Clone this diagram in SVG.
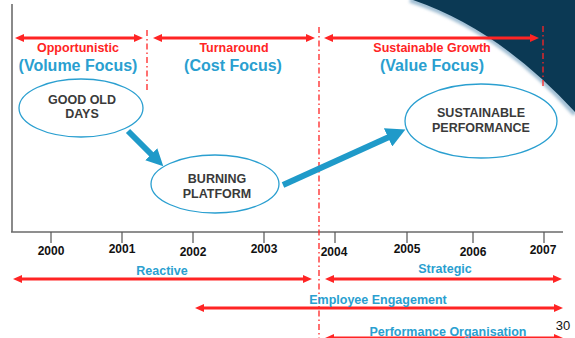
<svg xmlns="http://www.w3.org/2000/svg" width="575" height="338" viewBox="0 0 575 338">
<defs>
<style>
text{font-family:"Liberation Sans",Arial,sans-serif;font-weight:bold;text-anchor:middle}
.red{fill:#ff2424;font-size:12.5px}
.blue{fill:#2a9fd0;font-size:12.5px}
.big{fill:#2a9fd0;font-size:16px}
.node{fill:#3a3a3a;font-size:12.5px}
.yr{fill:#111;font-size:12px}
.ell{fill:#fff;stroke:#2a9fd0;stroke-width:1.3}
.rarr{stroke:#ff2424;stroke-width:3;fill:none;marker-start:url(#rh);marker-end:url(#rh)}
.barr{stroke:#1f9ac9;stroke-width:6;fill:none}
.dash{stroke:#ff2424;stroke-width:1.3;stroke-dasharray:6,3,1.5,3;fill:none}
.tick{stroke:#555;stroke-width:1.2}
</style>
<marker id="rh" markerUnits="userSpaceOnUse" markerWidth="10" markerHeight="8" refX="1" refY="4" orient="auto-start-reverse"><path d="M0,0 L9,4 L0,8 z" fill="#ff2424"/></marker>
<marker id="bh1" markerUnits="userSpaceOnUse" markerWidth="18" markerHeight="18" refX="1" refY="8.5" orient="auto"><path d="M0,0 L17,8.5 L0,17 z" fill="#1f9ac9"/></marker>
<marker id="bh2" markerUnits="userSpaceOnUse" markerWidth="20" markerHeight="20" refX="1" refY="10" orient="auto"><path d="M0,0 L19,10 L0,20 z" fill="#1f9ac9"/></marker>
<filter id="glow" x="-20%" y="-20%" width="140%" height="140%"><feGaussianBlur stdDeviation="1.5"/></filter>
</defs>
<rect width="575" height="338" fill="#fff"/>
<g id="corner">
<path d="M410,0 Q498,28 575,114" fill="none" stroke="#9fbdd3" stroke-width="5" filter="url(#glow)"/>
<path d="M413,0 Q500,30 575,112 L575,0 Z" fill="#0b3954"/>
</g>
<g id="axes">
<line x1="12" y1="4" x2="12" y2="232" stroke="#8a8a8a" stroke-width="2"/>
<line x1="11" y1="232" x2="563" y2="232" stroke="#6a6a6a" stroke-width="1.5"/>
<line class="tick" x1="51" y1="232" x2="51" y2="243"/>
<line class="tick" x1="122" y1="232" x2="122" y2="243"/>
<line class="tick" x1="193" y1="232" x2="193" y2="243"/>
<line class="tick" x1="264" y1="232" x2="264" y2="243"/>
<line class="tick" x1="335" y1="232" x2="335" y2="243"/>
<line class="tick" x1="407" y1="232" x2="407" y2="243"/>
<line class="tick" x1="473" y1="232" x2="473" y2="243"/>
<line class="tick" x1="544" y1="232" x2="544" y2="243"/>
<text class="yr" x="51" y="255">2000</text>
<text class="yr" x="122" y="253">2001</text>
<text class="yr" x="193" y="256">2002</text>
<text class="yr" x="264" y="253">2003</text>
<text class="yr" x="334" y="256">2004</text>
<text class="yr" x="407" y="253">2005</text>
<text class="yr" x="473" y="256">2006</text>
<text class="yr" x="543" y="254">2007</text>
</g>
<g id="dividers">
<line class="dash" x1="147" y1="30" x2="147" y2="93"/>
<line class="dash" x1="319" y1="27" x2="319" y2="338"/>
<line class="dash" x1="543" y1="26" x2="543" y2="88"/>
</g>
<g id="phases">
<line class="rarr" x1="23" y1="38" x2="135" y2="38"/>
<line class="rarr" x1="161" y1="38" x2="307" y2="38"/>
<line class="rarr" x1="332" y1="38" x2="531" y2="38"/>
<text class="red" x="78" y="52">Opportunistic</text>
<text class="big" x="78" y="71">(Volume Focus)</text>
<text class="red" x="234" y="52">Turnaround</text>
<text class="big" x="233" y="71">(Cost Focus)</text>
<text class="red" x="432" y="52">Sustainable Growth</text>
<text class="big" x="432" y="71">(Value Focus)</text>
</g>
<g id="connectors">
<line class="barr" x1="128" y1="131" x2="152" y2="155" marker-end="url(#bh1)"/>
<line class="barr" x1="283" y1="185" x2="389" y2="137" marker-end="url(#bh2)"/>
</g>
<g id="node-good-old-days">
<ellipse class="ell" cx="81" cy="108" rx="62" ry="29"/>
<text class="node" x="82" y="104">GOOD OLD</text>
<text class="node" x="82" y="118">DAYS</text>
</g>
<g id="node-burning-platform">
<ellipse class="ell" cx="215" cy="184" rx="64" ry="29"/>
<text class="node" x="217" y="183">BURNING</text>
<text class="node" x="217" y="198">PLATFORM</text>
</g>
<g id="node-sustainable-performance">
<ellipse class="ell" cx="481" cy="121" rx="76" ry="37"/>
<text class="node" x="481" y="117">SUSTAINABLE</text>
<text class="node" x="481" y="132">PERFORMANCE</text>
</g>
<g id="bands">
<line class="rarr" x1="21" y1="279" x2="304" y2="279"/>
<text class="blue" x="162" y="275">Reactive</text>
<line class="rarr" x1="333" y1="279" x2="554" y2="279"/>
<text class="blue" x="445" y="273">Strategic</text>
<line class="rarr" x1="203" y1="308" x2="555" y2="308"/>
<text class="blue" x="378" y="304">Employee Engagement</text>
<line class="rarr" x1="333" y1="338" x2="555" y2="338"/>
<text class="blue" x="448" y="336">Performance Organisation</text>
</g>
<text x="563" y="330" style="font-weight:normal;font-size:13px;fill:#111">30</text>
</svg>
